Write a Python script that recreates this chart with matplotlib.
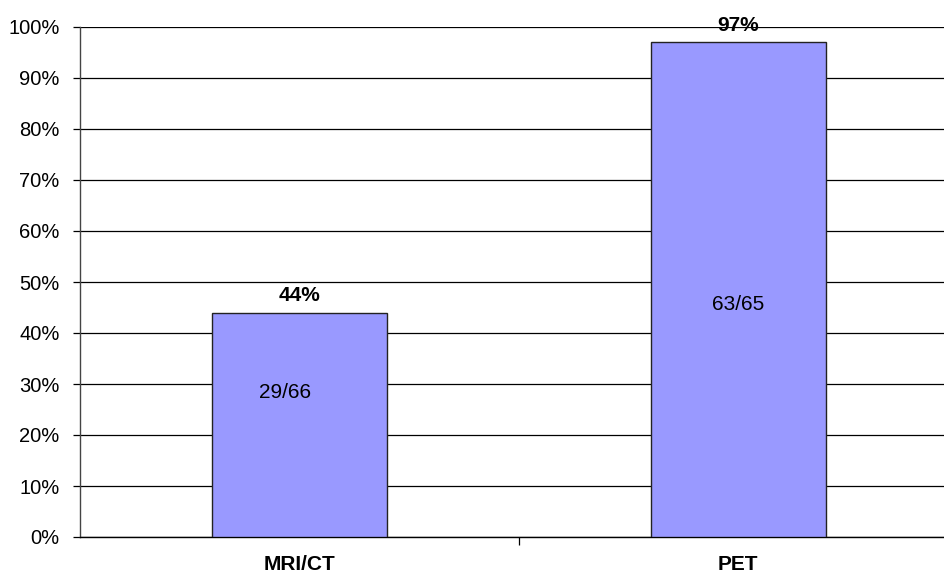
import numpy as np
import matplotlib.pyplot as plt
from matplotlib.ticker import PercentFormatter

# Data
categories = ["MRI/CT", "PET"]
values = [44, 97]
value_labels = ["44%", "97%"]
counts = ["29/66", "63/65"]

# where the count labels sit inside the bars
inner_x_shift = [-0.033, 0.0]
inner_y = [28.4, 45.5]

plt.rcParams['font.family'] = ['Liberation Sans', 'DejaVu Sans']

fig = plt.figure(figsize=(9.45, 5.81), dpi=100)
# axes run past the right edge of the picture like the original crop
ax = fig.add_axes([80.5 / 945, 44 / 581, 877 / 945, 510 / 581])

x = np.arange(len(categories))
ax.bar(x, values, width=0.40, color='#9999FF', edgecolor='#222222',
       linewidth=1.0, zorder=3)

for xi, v, lab, cnt, dx, ypos in zip(x, values, value_labels, counts,
                                      inner_x_shift, inner_y):
    ax.text(xi, v + 1.4, lab, ha='center', va='bottom', fontsize=15,
            fontweight='bold', zorder=4)
    ax.text(xi + dx, ypos, cnt, ha='center', va='center', fontsize=15, zorder=4)

ax.set_xlim(-0.5, 1.5)
ax.set_ylim(0, 100)
ax.set_yticks(np.arange(0, 101, 10))
ax.yaxis.set_major_formatter(PercentFormatter(decimals=0))
ax.yaxis.grid(True, color='black', linewidth=0.9)
ax.set_axisbelow(True)

# category labels without ticks, one divider tick between categories
ax.set_xticks([0.5])
ax.set_xticklabels([""])
ax.set_xticks(x, minor=True)
ax.set_xticklabels(categories, minor=True, fontsize=15, fontweight='bold')
ax.tick_params(axis='x', which='minor', length=0, pad=13)
ax.tick_params(axis='x', which='major', length=6, width=0.9, direction='out')
ax.tick_params(axis='y', length=5, width=0.9, labelsize=14.5, pad=10)

for side in ['top', 'right']:
    ax.spines[side].set_visible(False)
ax.spines['left'].set_color('#444444')
ax.spines['bottom'].set_color('black')
ax.spines['left'].set_linewidth(1.0)
ax.spines['bottom'].set_linewidth(1.0)

fig.savefig('out.png', dpi=100)
plt.close(fig)
